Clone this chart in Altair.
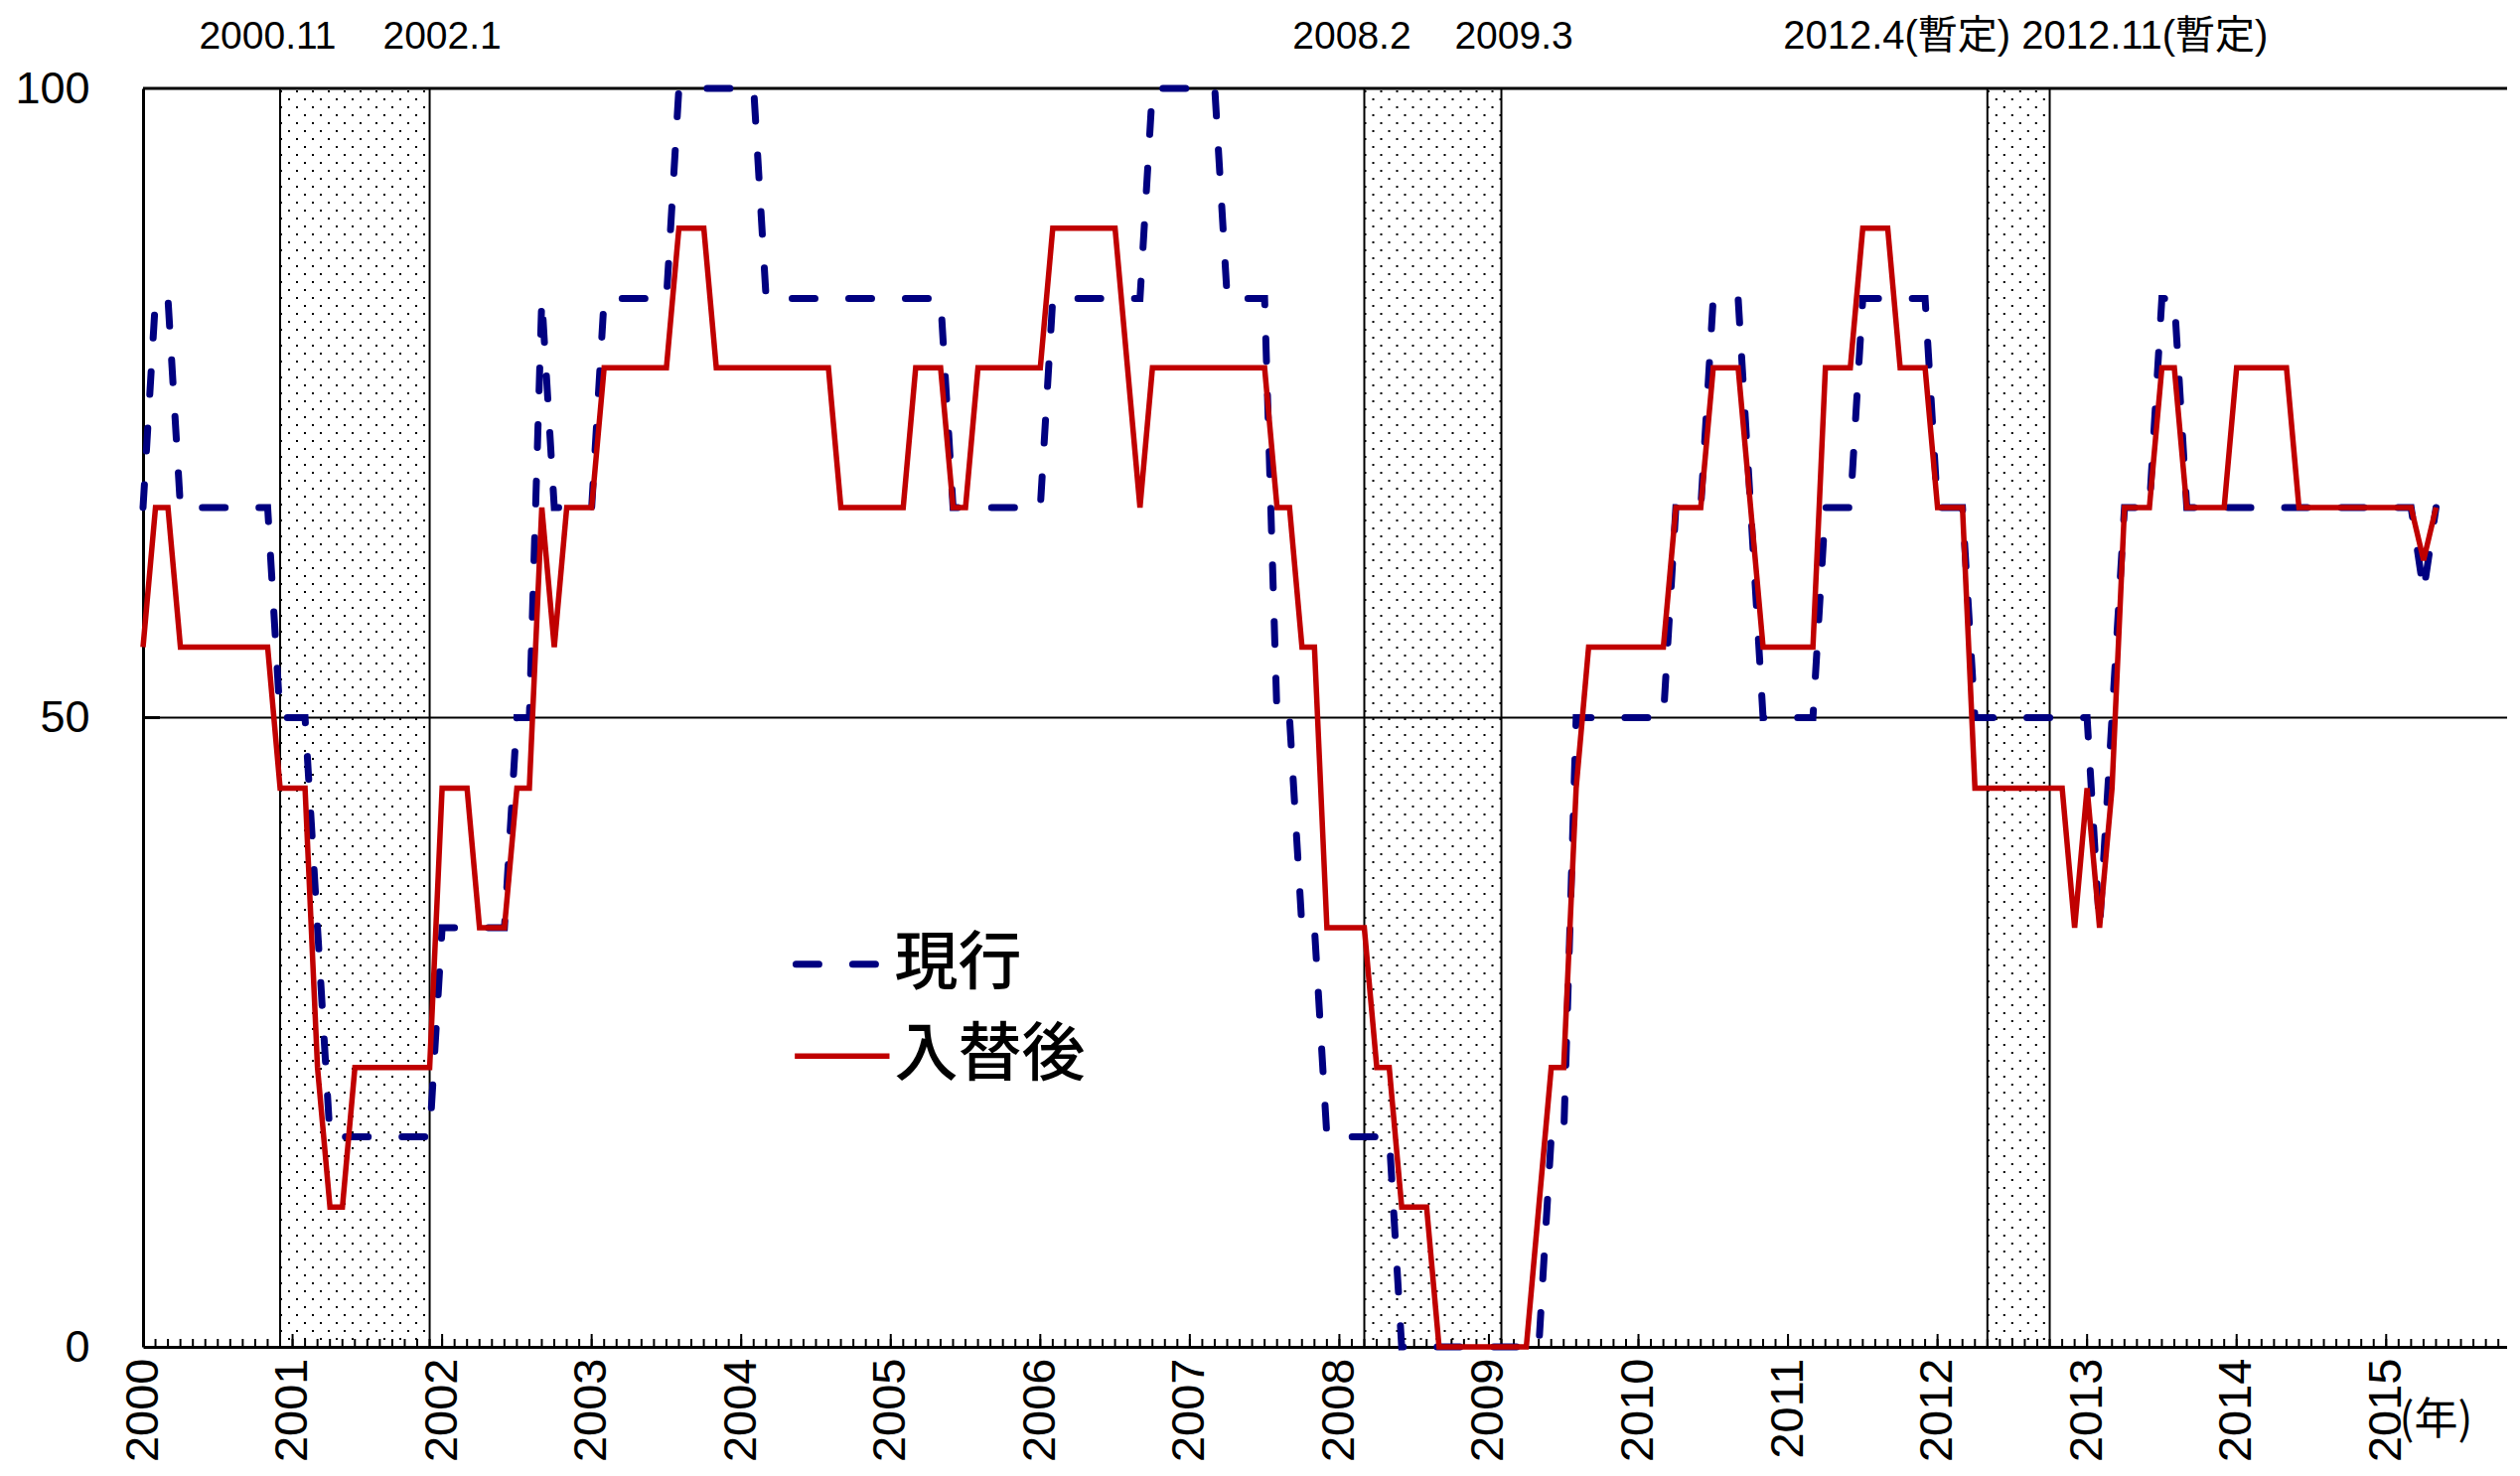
import altair as alt
import pandas as pd

# ---------------- data (monthly, 2000.1 = index 0) ----------------
series_names = ["現行", "入替後"]

genko = [
    66.7, 83.3, 83.3, 66.7, 66.7, 66.7, 66.7, 66.7, 66.7, 66.7, 66.7, 50,      # 2000
    50, 50, 33.3, 16.7, 16.7, 16.7, 16.7, 16.7, 16.7, 16.7, 16.7, 16.7,        # 2001
    33.3, 33.3, 33.3, 33.3, 33.3, 33.3, 50, 50, 83.3, 66.7, 66.7, 66.7,        # 2002
    66.7, 83.3, 83.3, 83.3, 83.3, 83.3, 83.3, 100, 100, 100, 100, 100,         # 2003
    100, 100, 83.3, 83.3, 83.3, 83.3, 83.3, 83.3, 83.3, 83.3, 83.3, 83.3,      # 2004
    83.3, 83.3, 83.3, 83.3, 83.3, 66.7, 66.7, 66.7, 66.7, 66.7, 66.7, 66.7,    # 2005
    66.7, 83.3, 83.3, 83.3, 83.3, 83.3, 83.3, 83.3, 83.3, 100, 100, 100,       # 2006
    100, 100, 100, 83.3, 83.3, 83.3, 83.3, 50, 50, 33.3, 33.3, 16.7,           # 2007
    16.7, 16.7, 16.7, 16.7, 16.7, 0, 0, 0, 0, 0, 0, 0,                         # 2008
    0, 0, 0, 0, 0, 16.7, 16.7, 50, 50, 50, 50, 50,                             # 2009
    50, 50, 50, 66.7, 66.7, 66.7, 83.3, 83.3, 83.3, 66.7, 50, 50,              # 2010
    50, 50, 50, 66.7, 66.7, 66.7, 83.3, 83.3, 83.3, 83.3, 83.3, 83.3,          # 2011
    66.7, 66.7, 66.7, 50, 50, 50, 50, 50, 50, 50, 50, 50,                      # 2012
    50, 33.3, 50, 66.7, 66.7, 66.7, 83.3, 83.3, 66.7, 66.7, 66.7, 66.7,        # 2013
    66.7, 66.7, 66.7, 66.7, 66.7, 66.7, 66.7, 66.7, 66.7, 66.7, 66.7, 66.7,    # 2014
    66.7, 66.7, 66.7, 60, 66.7,                                                # 2015
]

irekae = [
    55.6, 66.7, 66.7, 55.6, 55.6, 55.6, 55.6, 55.6, 55.6, 55.6, 55.6, 44.4,    # 2000
    44.4, 44.4, 22.2, 11.1, 11.1, 22.2, 22.2, 22.2, 22.2, 22.2, 22.2, 22.2,    # 2001
    44.4, 44.4, 44.4, 33.3, 33.3, 33.3, 44.4, 44.4, 66.7, 55.6, 66.7, 66.7,    # 2002
    66.7, 77.8, 77.8, 77.8, 77.8, 77.8, 77.8, 88.9, 88.9, 88.9, 77.8, 77.8,    # 2003
    77.8, 77.8, 77.8, 77.8, 77.8, 77.8, 77.8, 77.8, 66.7, 66.7, 66.7, 66.7,    # 2004
    66.7, 66.7, 77.8, 77.8, 77.8, 66.7, 66.7, 77.8, 77.8, 77.8, 77.8, 77.8,    # 2005
    77.8, 88.9, 88.9, 88.9, 88.9, 88.9, 88.9, 77.8, 66.7, 77.8, 77.8, 77.8,    # 2006
    77.8, 77.8, 77.8, 77.8, 77.8, 77.8, 77.8, 66.7, 66.7, 55.6, 55.6, 33.3,    # 2007
    33.3, 33.3, 33.3, 22.2, 22.2, 11.1, 11.1, 11.1, 0, 0, 0, 0,                # 2008
    0, 0, 0, 0, 11.1, 22.2, 22.2, 44.4, 55.6, 55.6, 55.6, 55.6,                # 2009
    55.6, 55.6, 55.6, 66.7, 66.7, 66.7, 77.8, 77.8, 77.8, 66.7, 55.6, 55.6,    # 2010
    55.6, 55.6, 55.6, 77.8, 77.8, 77.8, 88.9, 88.9, 88.9, 77.8, 77.8, 77.8,    # 2011
    66.7, 66.7, 66.7, 44.4, 44.4, 44.4, 44.4, 44.4, 44.4, 44.4, 44.4, 33.3,    # 2012
    44.4, 33.3, 44.4, 66.7, 66.7, 66.7, 77.8, 77.8, 66.7, 66.7, 66.7, 66.7,    # 2013
    77.8, 77.8, 77.8, 77.8, 77.8, 66.7, 66.7, 66.7, 66.7, 66.7, 66.7, 66.7,    # 2014
    66.7, 66.7, 66.7, 62.5, 66.7,                                              # 2015
]

peaks = ["2000.11", "2008.2", "2012.4(暫定)"]
troughs = ["2002.1", "2009.3", "2012.11(暫定)"]
year_labels = list(range(2000, 2016))
y_ticks = [0, 50, 100]
unit_label = "(年)"

# ---------------- layout ----------------
W, H = 2380, 1267
PX_PER_MONTH = 12.546
XMAX = W / PX_PER_MONTH
ROW = 8 / (H / 100.0)          # 8 px in value units (dot pattern row spacing)

xscale = alt.Scale(domain=[0, XMAX], nice=False, zero=False)
yscale = alt.Scale(domain=[0, 100], nice=False, zero=False)

BLUE = "#000080"
RED = "#c00000"
REG = "Liberation Sans, Arial, Noto Sans CJK JP, sans-serif"
CJK = "Noto Sans CJK JP, sans-serif"


def ym(s):
    y, m = s.split("(")[0].split(".")
    return (int(y) - 2000) * 12 + int(m) - 1


n = len(genko)
series = pd.DataFrame({"i": list(range(n)), "genko": genko, "irekae": irekae})
bands = pd.DataFrame({"start": [ym(p) + 1 for p in peaks],
                      "end": [ym(t) - 1 for t in troughs]})
months = pd.DataFrame({"m": list(range(0, int(XMAX) + 1))})
years_df = pd.DataFrame({"m": [(y - 2000) * 12 for y in year_labels]})
dummy = pd.DataFrame({"a": [0]})

xaxis = alt.Axis(values=[(y - 2000) * 12 for y in year_labels],
                 labelExpr="2000 + datum.value / 12",
                 labelAngle=-90, labelFontSize=47, labelFont=REG, labelColor="black",
                 labelPadding=11, ticks=False, domainColor="black", domainWidth=3,
                 grid=False, title=None, labelOverlap=False, labelFlush=False)
yaxis = alt.Axis(values=y_ticks, labelFontSize=45, labelFont=REG, labelColor="black",
                 labelPadding=54, ticks=False, domainColor="black", domainWidth=3,
                 grid=False, title=None, labelFlush=False)


def X(field=None, datum=None):
    if datum is not None:
        return alt.X(datum=datum, scale=xscale, axis=xaxis, title=None)
    return alt.X(field, type="quantitative", scale=xscale, axis=xaxis, title=None)


def Y(field=None, datum=None):
    if datum is not None:
        return alt.Y(datum=datum, scale=yscale, axis=yaxis, title=None)
    return alt.Y(field, type="quantitative", scale=yscale, axis=yaxis, title=None)


def dots(shift_rows, dash_offset):
    return alt.Chart(bands).transform_calculate(
        r="sequence(0, 80)"
    ).transform_flatten(["r"]).transform_calculate(
        yy=f"datum.r * {2 * ROW} + {shift_rows * ROW}"
    ).transform_filter("datum.yy <= 100").mark_rule(
        color="black", strokeWidth=2, strokeDash=[2, 14], strokeDashOffset=dash_offset
    ).encode(x=X("start"), x2="end:Q", y=Y("yy"))


dots_a = dots(0, 0)
dots_b = dots(1, 8)

edges = alt.Chart(bands).transform_fold(["start", "end"], as_=["k", "xv"]).mark_rule(
    color="black", strokeWidth=2
).encode(x=X("xv"))

line50 = alt.Chart(dummy).mark_rule(color="black", strokeWidth=1.8).encode(y=Y(datum=50))
line100 = alt.Chart(dummy).mark_rule(color="black", strokeWidth=3).encode(y=Y(datum=100))
tick50 = alt.Chart(dummy).mark_rule(color="black", strokeWidth=3).encode(
    x=alt.value(0), x2=alt.value(17), y=Y(datum=50))

mticks = alt.Chart(months).mark_rule(color="black", strokeWidth=2).encode(
    x=X("m"), y=alt.value(H), y2=alt.value(H - 8))
yticks = alt.Chart(years_df).mark_rule(color="black", strokeWidth=2).encode(
    x=X("m"), y=alt.value(H), y2=alt.value(H - 13))

dash_style = dict(strokeWidth=7, strokeDash=[23, 34], strokeCap="round")
red_width = 5.5

dashed = alt.Chart(series).mark_line(color=BLUE, **dash_style).encode(
    x=X("i"), y=Y("genko"))
red = alt.Chart(series).mark_line(color=RED, strokeWidth=red_width).encode(
    x=X("i"), y=Y("irekae"))

# legend (inside the plot)
leg1 = alt.Chart(dummy).mark_rule(color=BLUE, **dash_style).encode(
    x=X(datum=52.4), x2=alt.X2(datum=59.2), y=Y(datum=30.4))
leg2 = alt.Chart(dummy).mark_rule(color=RED, strokeWidth=red_width).encode(
    x=X(datum=52.3), x2=alt.X2(datum=59.9), y=Y(datum=23.1))
legt1 = alt.Chart(dummy).mark_text(text=series_names[0], font=CJK, fontSize=64, fontWeight=500,
                                   align="left", baseline="middle", color="black").encode(
    x=X(datum=60.3), y=Y(datum=30.4))
legt2 = alt.Chart(dummy).mark_text(text=series_names[1], font=CJK, fontSize=64, fontWeight=500,
                                   align="left", baseline="middle", color="black").encode(
    x=X(datum=60.3), y=Y(datum=23.1))

# turning-point labels above the plot
centered = pd.DataFrame({"lab": peaks[:2] + troughs[:2],
                         "x": [ym(s) for s in peaks[:2] + troughs[:2]]})
top_c = alt.Chart(centered).mark_text(font=REG, fontSize=39, align="center",
                                      baseline="middle", color="black").encode(
    x=X("x"), y=alt.value(-52), text="lab:N")
mid_last = (ym(peaks[2]) + ym(troughs[2])) / 2
top_l = alt.Chart(dummy).mark_text(text=peaks[2], font=REG, fontSize=40, align="right",
                                   baseline="middle", color="black", dx=-8).encode(
    x=X(datum=mid_last), y=alt.value(-52))
top_r = alt.Chart(dummy).mark_text(text=troughs[2], font=REG, fontSize=40, align="left",
                                   baseline="middle", color="black", dx=3).encode(
    x=X(datum=mid_last), y=alt.value(-52))

nen = alt.Chart(dummy).mark_text(text=unit_label, font=CJK, fontSize=44, align="center",
                                 baseline="middle", color="black").encode(
    x=X(datum=184.0), y=alt.value(H + 75))

chart = alt.layer(
    dots_a, dots_b, edges, line50, line100, tick50, mticks, yticks,
    dashed, red, leg1, leg2, legt1, legt2, top_c, top_l, top_r, nen,
).properties(
    width=W, height=H,
    autosize=alt.AutoSizeParams(type="none"),
    padding={"left": 136, "top": 81, "right": 0, "bottom": 121},
).configure_view(stroke=None).configure(background="white")

chart.save("out.html", embed_options={"renderer": "svg", "actions": False})
